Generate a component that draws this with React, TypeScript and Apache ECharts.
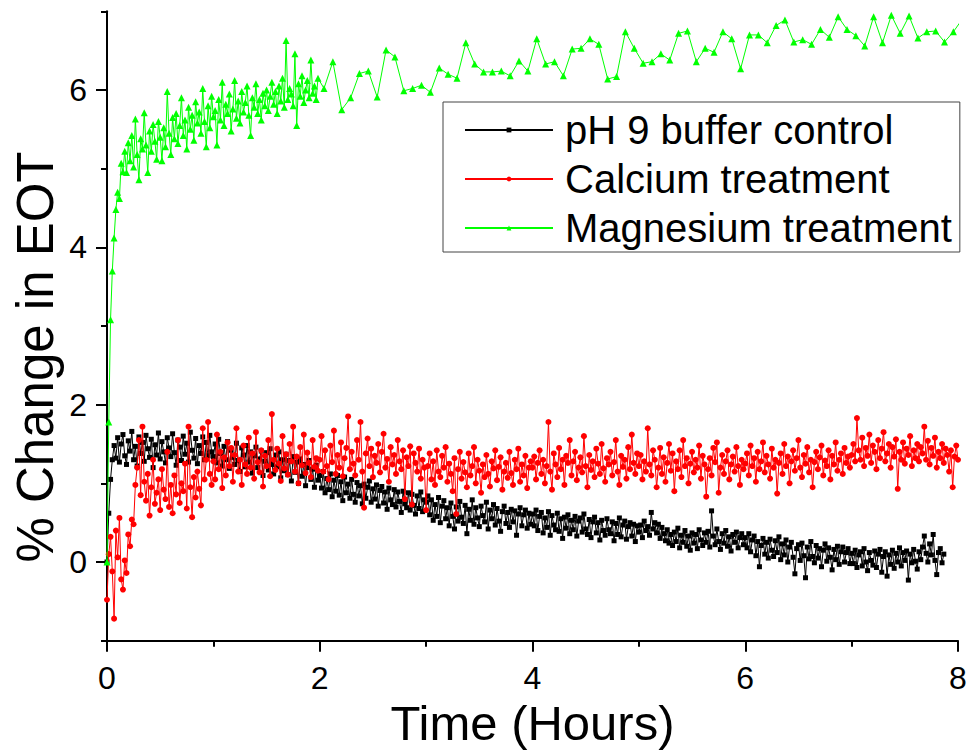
import { useEffect, useRef } from "react";
import * as echarts from "echarts";

// Sampling intervals, in hours
const BUFFER_STEP = 1 / 60;
const CALCIUM_STEP = 1 / 60;
const MG_FAST_STEP = 1 / 60;
const MG_SLOW_START = 2.04;
const MG_SLOW_STEP = 1 / 12;

// % change in EOT, pH 9 buffer control (1-minute readings, three rows per hour)
const bufferControl = [
  0.0, 0.62, 1.05, 1.3, 1.48, 1.32, 1.58, 1.27, 1.5, 1.62, 1.35, 1.24, 1.54, 1.41, 1.66, 1.3, 1.47, 1.22, 1.59, 1.38,
  1.52, 1.28, 1.61, 1.44, 1.33, 1.56, 1.2, 1.49, 1.36, 1.64, 1.31, 1.53, 1.4, 1.26, 1.58, 1.45, 1.34, 1.63, 1.39, 1.23,
  1.55, 1.46, 1.29, 1.6, 1.37, 1.51, 1.27, 1.65, 1.42, 1.32, 1.57, 1.25, 1.48, 1.38, 1.59, 1.3, 1.52, 1.35, 1.61, 1.4,

  1.34, 1.5, 1.26, 1.56, 1.38, 1.22, 1.47, 1.3, 1.53, 1.19, 1.42, 1.33, 1.24, 1.51, 1.29, 1.15, 1.45, 1.36, 1.21, 1.48,
  1.27, 1.4, 1.13, 1.35, 1.46, 1.2, 1.31, 1.41, 1.1, 1.28, 1.39, 1.17, 1.44, 1.24, 1.12, 1.36, 1.21, 1.4, 1.07, 1.3,
  1.16, 1.37, 1.11, 1.29, 1.03, 1.34, 1.14, 1.27, 1.0, 1.31, 1.09, 1.24, 0.97, 1.2, 1.29, 1.05, 1.18, 0.95, 1.23, 1.04,

  1.1, 0.94, 1.15, 0.88, 1.06, 0.92, 1.12, 0.83, 1.04, 0.9, 1.1, 0.85, 1.02, 0.78, 1.08, 0.88, 0.99, 0.81, 1.05, 0.86,
  0.76, 1.01, 0.84, 0.97, 0.74, 0.99, 0.81, 0.95, 1.03, 0.76, 0.93, 0.8, 0.98, 0.71, 0.91, 0.96, 0.75, 0.89, 0.67, 0.94,
  0.79, 0.73, 0.92, 0.7, 0.89, 0.77, 0.63, 0.9, 0.74, 0.69, 0.88, 0.66, 0.86, 0.72, 0.61, 0.84, 0.68, 0.89, 0.64, 0.79,

  0.76, 0.84, 0.6, 0.79, 0.53, 0.73, 0.58, 0.82, 0.5, 0.71, 0.78, 0.55, 0.69, 0.46, 0.75, 0.58, 0.42, 0.7, 0.52, 0.77,
  0.57, 0.49, 0.72, 0.36, 0.67, 0.53, 0.79, 0.48, 0.69, 0.56, 0.45, 0.71, 0.59, 0.51, 0.76, 0.42, 0.66, 0.55, 0.73, 0.47,
  0.68, 0.52, 0.39, 0.64, 0.71, 0.49, 0.63, 0.44, 0.67, 0.51, 0.65, 0.34, 0.61, 0.69, 0.46, 0.6, 0.66, 0.43, 0.62, 0.48,

  0.61, 0.46, 0.66, 0.4, 0.58, 0.63, 0.37, 0.56, 0.44, 0.64, 0.34, 0.59, 0.47, 0.41, 0.62, 0.39, 0.55, 0.3, 0.57, 0.43,
  0.6, 0.36, 0.53, 0.41, 0.58, 0.33, 0.52, 0.56, 0.38, 0.61, 0.42, 0.35, 0.54, 0.31, 0.51, 0.57, 0.37, 0.5, 0.28, 0.53,
  0.4, 0.34, 0.55, 0.41, 0.36, 0.51, 0.27, 0.49, 0.35, 0.56, 0.32, 0.47, 0.52, 0.29, 0.45, 0.5, 0.33, 0.48, 0.26, 0.46,

  0.38, 0.47, 0.31, 0.52, 0.4, 0.45, 0.34, 0.63, 0.42, 0.5, 0.37, 0.48, 0.3, 0.44, 0.36, 0.27, 0.41, 0.24, 0.35, 0.21,
  0.38, 0.26, 0.43, 0.18, 0.34, 0.25, 0.4, 0.2, 0.33, 0.15, 0.37, 0.24, 0.35, 0.17, 0.41, 0.28, 0.21, 0.37, 0.25, 0.39,
  0.19, 0.65, 0.33, 0.22, 0.42, 0.26, 0.16, 0.36, 0.24, 0.4, 0.2, 0.32, 0.14, 0.35, 0.25, 0.38, 0.18, 0.31, 0.36, 0.22,

  0.31, 0.18, 0.36, 0.13, 0.28, 0.33, 0.08, 0.26, -0.06, 0.21, 0.3, 0.1, 0.25, 0.05, 0.29, 0.15, 0.07, 0.27, 0.12, 0.32,
  0.03, 0.23, 0.09, 0.28, 0.0, 0.19, 0.25, 0.06, -0.15, 0.17, 0.22, 0.02, 0.24, 0.08, -0.2, 0.19, 0.04, 0.26, 0.07, -0.01,
  0.21, 0.05, 0.17, -0.06, 0.15, 0.23, 0.01, 0.18, 0.06, -0.1, 0.16, 0.03, 0.2, -0.03, 0.13, 0.19, 0.0, 0.12, 0.17, -0.02,

  0.11, -0.02, 0.15, -0.07, 0.09, 0.13, -0.05, 0.17, 0.0, -0.11, 0.12, 0.02, -0.04, 0.14, -0.07, 0.1, 0.16, -0.13, 0.07, 0.13,
  -0.18, 0.09, -0.03, 0.15, -0.08, 0.11, 0.0, 0.18, -0.05, 0.12, 0.02, 0.14, -0.23, 0.1, -0.01, 0.16, 0.01, -0.09, 0.13, 0.03,
  0.19, 0.33, 0.11, 0.0, 0.23, 0.09, 0.35, 0.02, -0.16, 0.12, 0.17, -0.01, 0.1,
];

// % change in EOT, calcium treatment (1-minute readings, three rows per hour)
const calciumTreatment = [
  -0.48, 0.1, 0.32, -0.12, -0.72, 0.4, 0.06, 0.56, -0.22, -0.35, 0.02, -0.14, 0.35, 0.2, 0.54, 0.48, 0.98, 1.2, 1.55, 0.85,
  1.72, 1.02, 0.78, 1.12, 0.59, 0.95, 1.3, 0.74, 0.88, 1.05, 0.66, 1.18, 0.92, 0.8, 1.4, 0.7, 0.98, 0.62, 1.1, 0.86,
  1.55, 0.75, 1.0, 0.9, 1.25, 0.68, 1.72, 0.95, 0.57, 1.08, 0.82, 1.15, 0.93, 0.72, 1.7, 1.05, 1.3, 1.78, 1.12, 0.98,

  1.28, 1.05, 1.62, 1.18, 1.4, 0.94, 1.33, 1.1, 1.52, 1.22, 1.45, 1.02, 1.36, 1.7, 1.15, 1.3, 0.98, 1.48, 1.24, 1.12,
  1.58, 1.2, 1.38, 1.06, 1.65, 1.27, 1.14, 1.42, 0.96, 1.35, 1.22, 1.55, 1.09, 1.88, 1.3, 1.17, 1.44, 1.25, 1.03, 1.6,
  1.19, 1.37, 1.11, 1.5, 1.28, 1.72, 1.15, 1.34, 1.0, 1.46, 1.23, 1.62, 1.13, 1.39, 1.26, 1.08, 1.55, 1.21, 1.32, 1.16,

  1.3, 1.6, 1.15, 1.42, 1.22, 1.05, 1.48, 1.27, 1.67, 1.12, 1.36, 1.2, 1.52, 1.09, 1.32, 1.45, 1.85, 1.18, 1.4, 1.25,
  1.1, 1.55, 1.3, 1.78, 1.15, 0.69, 1.38, 1.57, 1.22, 1.44, 1.08, 1.35, 1.26, 1.5, 1.14, 1.4, 1.63, 1.2, 1.31, 1.02,
  1.46, 1.24, 1.36, 1.12, 1.55, 1.28, 1.18, 1.42, 0.8, 1.33, 1.22, 1.47, 0.73, 1.38, 1.26, 1.15, 1.44, 1.06, 1.3, 1.2,

  0.66, 1.22, 1.38, 1.05, 1.28, 0.98, 1.42, 1.15, 1.08, 1.35, 1.2, 1.46, 1.02, 1.25, 1.12, 0.9, 1.32, 0.61, 1.18, 1.4,
  1.06, 1.27, 1.14, 0.95, 1.38, 1.1, 1.22, 1.46, 1.0, 1.3, 1.16, 0.88, 1.24, 1.08, 1.36, 1.12, 0.96, 1.28, 1.19, 1.42,
  1.04, 1.21, 1.33, 0.92, 1.15, 1.26, 1.07, 1.4, 1.13, 0.98, 1.3, 1.18, 1.44, 1.02, 1.24, 1.1, 1.35, 0.94, 1.2, 1.28,

  1.2, 1.34, 1.05, 1.26, 1.42, 1.12, 1.3, 1.0, 1.22, 1.78, 1.15, 0.92, 1.38, 1.24, 1.08, 1.45, 1.18, 1.3, 0.98, 1.35,
  1.26, 1.55, 1.1, 1.28, 1.4, 1.04, 1.2, 1.33, 1.14, 1.6, 1.22, 0.95, 1.36, 1.17, 1.28, 1.08, 1.44, 1.25, 1.12, 1.5,
  1.19, 1.02, 1.32, 1.24, 1.4, 1.1, 1.27, 1.55, 1.15, 0.98, 1.35, 1.21, 1.3, 1.06, 1.46, 1.18, 1.62, 1.26, 1.12, 1.38,

  1.22, 1.36, 1.05, 1.28, 1.15, 1.7, 1.24, 1.1, 1.42, 1.3, 0.95, 1.2, 1.45, 1.12, 1.33, 1.02, 1.26, 1.5, 1.16, 1.38,
  0.9, 1.28, 1.18, 1.42, 1.08, 1.55, 1.22, 1.32, 1.0, 1.25, 1.4, 1.14, 1.3, 1.2, 1.48, 1.06, 1.35, 1.24, 0.83, 1.18,
  1.32, 1.1, 1.45, 1.27, 1.52, 0.88, 1.2, 1.36, 1.12, 1.28, 1.42, 1.05, 1.24, 1.34, 1.15, 1.46, 1.22, 0.98, 1.3, 1.18,

  1.25, 1.38, 1.1, 1.48, 1.22, 1.32, 1.02, 1.4, 1.18, 1.28, 1.52, 1.14, 1.35, 1.24, 1.06, 1.44, 1.2, 1.3, 0.87, 1.26,
  1.38, 1.12, 1.5, 1.22, 1.34, 1.0, 1.28, 1.42, 1.16, 1.32, 1.55, 1.2, 1.08, 1.36, 1.25, 1.46, 1.14, 1.3, 0.95, 1.27,
  1.4, 1.18, 1.33, 1.48, 1.1, 1.29, 1.22, 1.42, 1.05, 1.35, 1.24, 1.52, 1.16, 1.3, 1.38, 1.12, 1.45, 1.26, 1.34, 1.2,

  1.36, 1.5, 1.28, 1.83, 1.42, 1.3, 1.58, 1.22, 1.45, 1.35, 1.62, 1.26, 1.48, 1.4, 1.18, 1.55, 1.32, 1.44, 1.65, 1.28,
  1.38, 1.5, 1.2, 1.46, 1.34, 1.56, 0.93, 1.4, 1.3, 1.52, 1.25, 1.44, 1.36, 1.6, 1.22, 1.42, 1.32, 1.5, 1.28, 1.46,
  1.38, 1.72, 1.3, 1.54, 1.24, 1.45, 1.35, 1.58, 1.2, 1.4, 1.32, 1.5, 1.26, 1.44, 1.36, 1.15, 1.42, 0.95, 1.34, 1.48, 1.3,
];

// % change in EOT, magnesium treatment: 1-minute readings for the first two hours
const magnesiumEarly = [
  0.0, 1.78, 3.08, 3.7, 4.12, 4.48, 4.7, 4.62, 5.07, 4.96,
  5.22, 4.95, 5.33, 5.1, 5.42, 5.02, 5.63, 5.18, 4.86, 5.38,
  5.25, 5.71, 5.3, 4.95, 5.48, 5.22, 5.56, 5.35, 5.12, 5.6,
  5.4, 5.1, 5.52, 5.28, 5.98, 5.45, 5.18, 5.65, 5.38, 5.7,
  5.32, 5.55, 5.9, 5.42, 5.62, 5.25, 5.78, 5.5, 5.68, 5.36,
  5.85, 5.58, 5.72, 5.45, 6.02, 5.6, 5.28, 5.8, 5.52, 5.92,
  5.66, 5.74, 5.3, 5.88, 5.62, 6.1, 5.55, 5.82, 5.7, 5.95,
  5.48, 5.76, 6.12, 5.64, 5.86, 5.58, 5.98, 5.72, 5.84, 6.05,
  5.68, 5.42, 5.9, 5.78, 6.08, 5.7, 5.88, 5.62, 5.96, 5.8,
  6.0, 5.74, 5.92, 6.1, 5.82, 5.98, 5.7, 6.05, 5.86, 6.15,
  5.78, 6.63, 5.88, 6.02, 5.95, 5.8, 6.46, 5.55, 6.08, 5.92,
  6.18, 5.84, 6.0, 6.12, 5.9, 6.38, 5.96, 6.05, 5.88, 6.15,
];

// ...then 5-minute readings
const magnesiumLate = [
  6.02, 6.36, 5.75, 5.9, 6.21, 6.24, 5.91, 6.51, 6.42, 5.99, 6.02, 6.06,
  5.97, 6.28, 6.2, 6.15, 6.6, 6.33, 6.23, 6.23, 6.24, 6.18, 6.37, 6.24,
  6.65, 6.33, 6.36, 6.18, 6.52, 6.53, 6.65, 6.58, 6.14, 6.17, 6.74, 6.53,
  6.34, 6.36, 6.46, 6.38, 6.72, 6.75, 6.36, 6.53, 6.48, 6.74, 6.65, 6.27,
  6.7, 6.7, 6.6, 6.82, 6.89, 6.61, 6.64, 6.58, 6.77, 6.67, 6.93, 6.77,
  6.69, 6.56, 6.93, 6.6, 6.95, 6.72, 6.94, 6.66, 6.74, 6.75, 6.61, 6.74,
  6.9,
];

const seriesNames = ["pH 9 buffer control", "Calcium treatment", "Magnesium treatment"];
const yMajorTicks = [0, 2, 4, 6];
const yMinorTicks = [-1, 1, 3, 5, 7];

const FONT = "'Liberation Sans', Arial, Helvetica, sans-serif";

const toPoints = (values: number[], start: number, step: number) =>
  values.map((v, i) => [start + i * step, v]);

export default function App() {
  const ref = useRef<HTMLDivElement>(null);

  useEffect(() => {
    document.body.style.margin = "0";
    if (!ref.current) return;
    const chart = echarts.init(ref.current, undefined, { renderer: "svg" });

    const axisStroke = { color: "#000", width: 2 };
    const tickText = { fontSize: 32, color: "#000", fontFamily: FONT };

    chart.setOption({
      animation: false,
      backgroundColor: "#fff",
      grid: { left: 107, right: 14, top: 11.33, bottom: 114.33, outerBoundsMode: "none" },
      xAxis: {
        type: "value",
        min: 0,
        max: 8,
        interval: 2,
        axisLine: { show: true, onZero: false, lineStyle: axisStroke },
        axisTick: { show: true, length: 11, lineStyle: axisStroke },
        minorTick: { show: true, splitNumber: 2, length: 6, lineStyle: axisStroke },
        splitLine: { show: false },
        axisLabel: { ...tickText, margin: 21 },
        name: "Time (Hours)",
        nameLocation: "middle",
        nameGap: 56,
        nameTextStyle: { fontSize: 49, color: "#000", fontFamily: FONT },
      },
      yAxis: [
        {
          type: "value",
          min: -1,
          max: 7,
          position: "left",
          axisLine: { show: true, onZero: false, lineStyle: axisStroke },
          axisTick: { show: true, length: 11, customValues: yMajorTicks, lineStyle: axisStroke },
          axisLabel: { ...tickText, margin: 20, customValues: yMajorTicks },
          splitLine: { show: false },
        },
        {
          type: "value",
          min: -1,
          max: 7,
          position: "left",
          axisLine: { show: false },
          axisTick: { show: true, length: 6, customValues: yMinorTicks, lineStyle: axisStroke },
          axisLabel: { show: false },
          splitLine: { show: false },
        },
      ],
      legend: {
        data: seriesNames,
        orient: "vertical",
        left: 443,
        top: 102,
        itemWidth: 88,
        itemHeight: 6,
        itemGap: 9,
        padding: [8, 8, 4, 21],
        borderColor: "#444",
        borderWidth: 1,
        backgroundColor: "#fff",
        textStyle: {
          fontSize: 40,
          lineHeight: 40,
          color: "#000",
          fontFamily: FONT,
          padding: [0, 0, 0, 7],
        },
      },
      graphic: [
        {
          type: "text",
          x: 35,
          y: 357,
          rotation: Math.PI / 2,
          style: {
            text: "% Change in EOT",
            font: `51px ${FONT}`,
            fill: "#000",
            align: "center",
            verticalAlign: "middle",
          },
        },
      ],
      series: [
        {
          name: seriesNames[0],
          type: "line",
          data: toPoints(bufferControl, 0, BUFFER_STEP),
          symbol: "rect",
          symbolSize: 5,
          itemStyle: { color: "#000" },
          lineStyle: { color: "#000", width: 1 },
          z: 2,
        },
        {
          name: seriesNames[1],
          type: "line",
          data: toPoints(calciumTreatment, 0, CALCIUM_STEP),
          symbol: "circle",
          symbolSize: 6,
          itemStyle: { color: "#ff0000" },
          lineStyle: { color: "#ff0000", width: 1 },
          z: 3,
        },
        {
          name: seriesNames[2],
          type: "line",
          data: [
            ...toPoints(magnesiumEarly, 0, MG_FAST_STEP),
            ...toPoints(magnesiumLate, MG_SLOW_START, MG_SLOW_STEP),
          ],
          symbol: "triangle",
          symbolSize: 7,
          itemStyle: { color: "#00ff00" },
          lineStyle: { color: "#00ff00", width: 1 },
          z: 4,
        },
      ],
    });

    return () => chart.dispose();
  }, []);

  return <div ref={ref} style={{ width: 972, height: 755 }} />;
}
